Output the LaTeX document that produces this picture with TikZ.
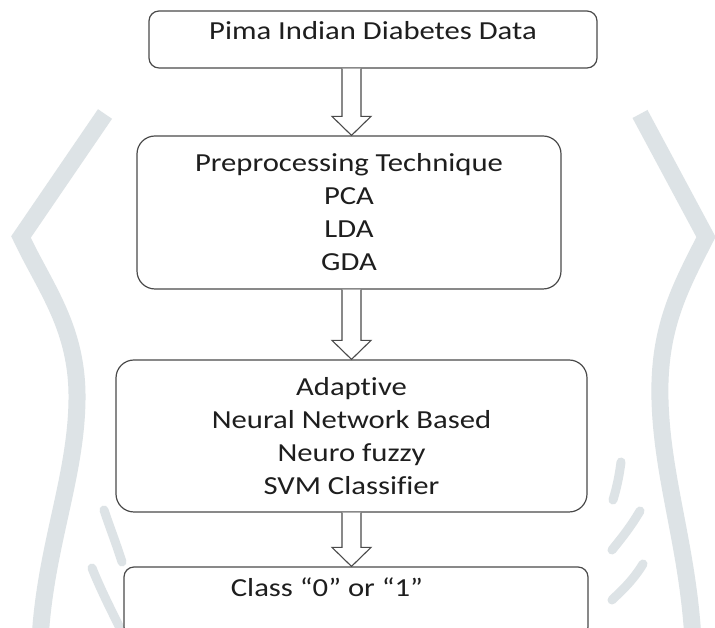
\documentclass[tikz,border=0pt]{standalone}
\usepackage{fontspec}
\setmainfont[FakeStretch=1.18, Ligatures=NoCommon]{Carlito}
\usetikzlibrary{calc}
\definecolor{wm}{HTML}{DDE3E6}
\definecolor{edge}{HTML}{4A4A4A}
\definecolor{ink}{HTML}{1E1E1E}
\tikzset{
  boxbase/.style={draw=edge, line width=1.2pt, fill=white, inner sep=0pt,
    text=ink, font=\fontsize{26}{33}\selectfont},
  bigbox/.style={boxbase, rounded corners=18pt, align=center},
  smallbox/.style={boxbase, rounded corners=10pt},
  harrow/.style={draw=edge, line width=1.1pt, fill=white, line join=miter},
  wmark/.style={draw=wm, line width=17pt},
  wleaf/.style={draw=wm, line width=9pt, line cap=round}
}
\newcommand\hollowarrow[2]{%
  \draw[harrow] ($(#1.south -| ax)+(-9.5,0)$) -- ($(#2.north -| ax)+(-9.5,19)$)
    -- ($(#2.north -| ax)+(-19.5,19)$) -- (#2.north -| ax)
    -- ($(#2.north -| ax)+(19.5,19)$) -- ($(#2.north -| ax)+(9.5,19)$)
    -- ($(#1.south -| ax)+(9.5,0)$);}
\begin{document}
\begin{tikzpicture}[x=1pt,y=1pt]
\useasboundingbox (0,0) rectangle (715,628);
\clip (0,0) rectangle (715,628);
\fill[white] (0,0) rectangle (715,628);
% watermark
\draw[wmark] (105,514) -- (21,391) .. controls (45,340) and (78,300) .. (77,228)
  .. controls (76,150) and (45,80) .. (40,-12);
\draw[wmark] (640,514) -- (706,391) .. controls (680,340) and (658,300) .. (660,228)
  .. controls (662,150) and (688,80) .. (693,-12);
\draw[wleaf] (104,118) .. controls (110,100) and (116,85) .. (122,66);
\draw[wleaf] (92,60) .. controls (100,40) and (110,20) .. (120,0);
\draw[wleaf] (621,166) .. controls (619,150) and (616,138) .. (613,128);
\draw[wleaf] (640,117) .. controls (630,100) and (620,88) .. (612,78);
\draw[wleaf] (643,64) .. controls (632,46) and (620,36) .. (612,28);
% boxes
\coordinate (ax) at (351.5,0);
\node[smallbox, minimum width=448pt, minimum height=57pt, text height=10pt, text depth=10pt]
  (data) at (373,588.5) {Pima Indian Diabetes Data};
\node[bigbox, minimum width=424pt, minimum height=153pt]
  (pre) at (349,415.5) {Preprocessing Technique\\PCA\\LDA\\GDA};
\node[bigbox, minimum width=471pt, minimum height=152pt]
  (cls) at (351.5,192) {Adaptive\\Neural Network Based\\Neuro fuzzy\\SVM Classifier};
\node[smallbox, minimum width=464pt, minimum height=70pt, text height=8pt, text depth=18pt]
  (out) at (356,26) {Class “0” or “1”\kern58pt};
% arrows
\hollowarrow{data}{pre}
\hollowarrow{pre}{cls}
\hollowarrow{cls}{out}
\end{tikzpicture}
\end{document}
